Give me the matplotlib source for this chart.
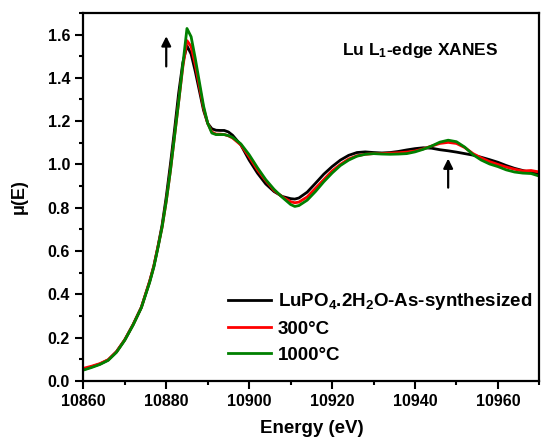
import numpy as np
import matplotlib
matplotlib.use('Agg')
import matplotlib.pyplot as plt
from matplotlib.ticker import MultipleLocator

plt.rcParams['font.family'] = ['Liberation Sans', 'DejaVu Sans']
plt.rcParams['font.weight'] = 'bold'
plt.rcParams['mathtext.default'] = 'regular'

# Energy grid (eV)
energy = [10860, 10862, 10864, 10866, 10868, 10870, 10872, 10874, 10876, 10877,
          10878, 10879, 10880, 10881, 10882, 10883, 10884, 10885, 10886, 10887,
          10888, 10889, 10890, 10891, 10892, 10893, 10894, 10895, 10896, 10898,
          10900, 10902, 10904, 10906, 10908, 10910, 10911, 10912, 10914, 10916,
          10918, 10920, 10922, 10924, 10926, 10928, 10930, 10932, 10934, 10936,
          10938, 10940, 10942, 10944, 10946, 10948, 10950, 10952, 10954, 10956,
          10958, 10960, 10962, 10964, 10966, 10968, 10970]

mu_as_synth = [0.052, 0.065, 0.078, 0.097, 0.135, 0.19, 0.26, 0.34, 0.46, 0.53,
               0.62, 0.72, 0.85, 1.0, 1.16, 1.33, 1.47, 1.548, 1.51, 1.43,
               1.34, 1.25, 1.19, 1.165, 1.158, 1.157, 1.157, 1.15, 1.135, 1.09,
               1.02, 0.96, 0.91, 0.875, 0.852, 0.842, 0.840, 0.845, 0.872, 0.913,
               0.955, 0.99, 1.02, 1.042, 1.055, 1.058, 1.055, 1.053, 1.055, 1.06,
               1.067, 1.073, 1.077, 1.075, 1.068, 1.063, 1.057, 1.05, 1.043, 1.033,
               1.022, 1.01, 0.995, 0.982, 0.972, 0.962, 0.955]

mu_300 = [0.058, 0.068, 0.08, 0.098, 0.135, 0.19, 0.26, 0.34, 0.46, 0.53,
          0.62, 0.71, 0.83, 0.97, 1.13, 1.29, 1.45, 1.572, 1.545, 1.46,
          1.36, 1.26, 1.19, 1.15, 1.14, 1.14, 1.138, 1.132, 1.122, 1.09,
          1.035, 0.975, 0.925, 0.88, 0.85, 0.828, 0.823, 0.826, 0.85, 0.89,
          0.93, 0.97, 1.0, 1.025, 1.04, 1.047, 1.05, 1.05, 1.052, 1.054,
          1.057, 1.062, 1.072, 1.085, 1.097, 1.102, 1.097, 1.078, 1.05, 1.03,
          1.013, 1.0, 0.988, 0.978, 0.97, 0.972, 0.965]

mu_1000 = [0.05, 0.062, 0.076, 0.095, 0.132, 0.188, 0.258, 0.338, 0.455, 0.525,
           0.615, 0.71, 0.83, 0.97, 1.13, 1.29, 1.46, 1.628, 1.59, 1.49,
           1.38, 1.27, 1.19, 1.145, 1.138, 1.138, 1.138, 1.133, 1.125, 1.095,
           1.045, 0.985, 0.93, 0.885, 0.848, 0.815, 0.806, 0.81, 0.835, 0.875,
           0.92, 0.96, 0.995, 1.02, 1.038, 1.047, 1.05, 1.048, 1.047, 1.048,
           1.05, 1.058, 1.07, 1.085, 1.103, 1.112, 1.105, 1.08, 1.045, 1.02,
           1.002, 0.99, 0.975, 0.965, 0.96, 0.958, 0.946]

labels = ['LuPO$_4$.2H$_2$O-As-synthesized', '300°C', '1000°C']
colors = ['black', '#ff0000', '#008000']

fig = plt.figure(figsize=(5.41, 4.45), dpi=100)
ax = fig.add_axes([0.154, 0.144, 0.843, 0.827])

for mu, lab, c in zip([mu_as_synth, mu_300, mu_1000], labels, colors):
    ax.plot(energy, mu, color=c, lw=2.0, label=lab)

ax.set_xlim(10860, 10970)
ax.set_ylim(0.0, 1.7)
ax.xaxis.set_major_locator(MultipleLocator(20))
ax.xaxis.set_minor_locator(MultipleLocator(10))
ax.yaxis.set_major_locator(MultipleLocator(0.2))
ax.yaxis.set_minor_locator(MultipleLocator(0.1))
ax.yaxis.set_major_formatter(matplotlib.ticker.FormatStrFormatter('%.1f'))
ax.tick_params(which='major', direction='out', length=6, width=1.5, labelsize=11.5)
ax.tick_params(which='minor', direction='out', length=3, width=1.5)
for s in ax.spines.values():
    s.set_linewidth(1.6)

ax.set_xlabel('Energy (eV)', fontsize=13.5, fontweight='bold', labelpad=8)
ax.set_ylabel('μ(E)', fontsize=13, fontweight='bold', labelpad=14)

ax.text(0.738, 0.899, 'Lu L$_1$-edge XANES', transform=ax.transAxes,
        ha='center', va='center', fontsize=12.5, fontweight='bold')

# arrows marking the changes
ax.annotate('', xy=(10880, 1.605), xytext=(10880, 1.44),
            arrowprops=dict(arrowstyle='-|>', color='black', lw=1.6, mutation_scale=14))
ax.annotate('', xy=(10948, 1.04), xytext=(10948, 0.88),
            arrowprops=dict(arrowstyle='-|>', color='black', lw=1.6, mutation_scale=14))

ax.legend(loc='upper left', bbox_to_anchor=(0.317, 0.243), frameon=False,
          fontsize=13.5, handlelength=2.3, handletextpad=0.35, labelspacing=0.45,
          borderpad=0, borderaxespad=0)

fig.savefig('out.png', dpi=100)
